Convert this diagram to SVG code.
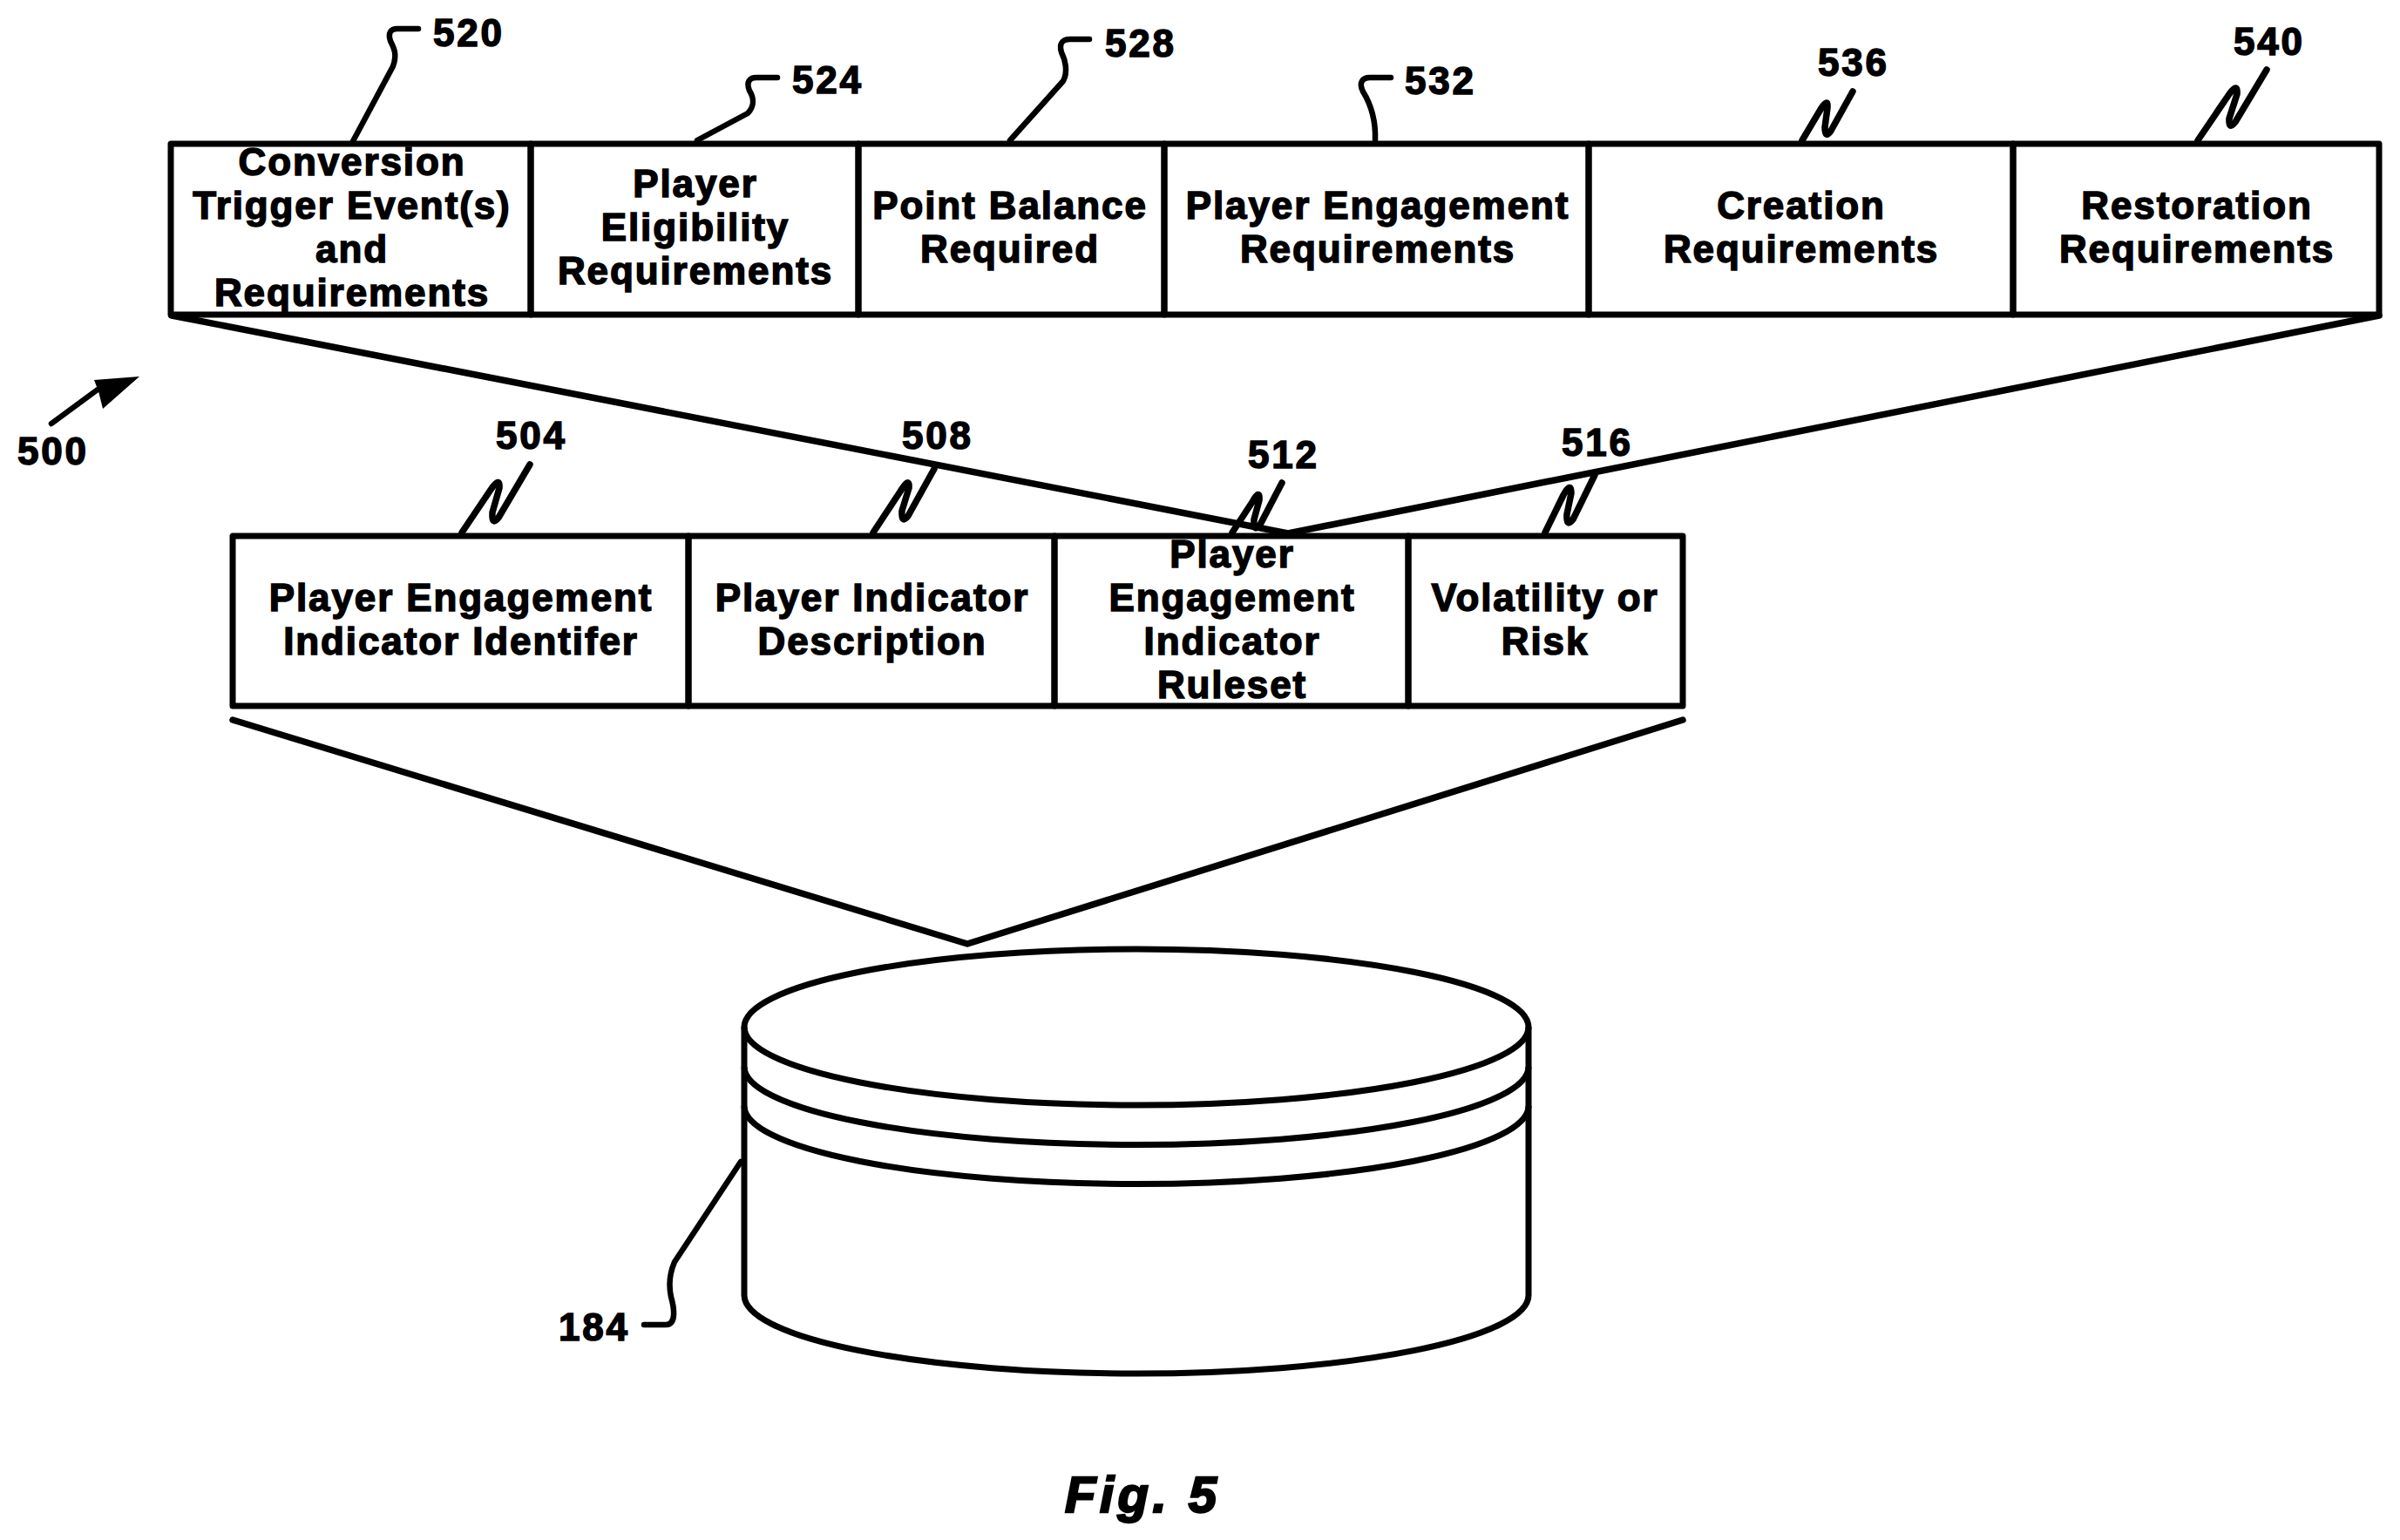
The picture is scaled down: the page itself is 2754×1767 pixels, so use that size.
<svg xmlns="http://www.w3.org/2000/svg" width="2754" height="1767" viewBox="0 0 2754 1767">
<style>
.cell{fill:none;stroke:#000;stroke-width:7;stroke-linejoin:round}
.t{font-family:"Liberation Sans",Arial,sans-serif;font-weight:700;font-size:44px;letter-spacing:1.9px;text-anchor:middle;fill:#000;stroke:#000;stroke-width:1.5}
.n{font-family:"Liberation Sans",Arial,sans-serif;font-weight:700;font-size:44px;letter-spacing:2.8px;fill:#000;stroke:#000;stroke-width:1.5}
.fig{font-family:"Liberation Sans",Arial,sans-serif;font-weight:700;font-style:italic;font-size:58px;letter-spacing:4.5px;fill:#000;stroke:#000;stroke-width:2.4}
.l{fill:none;stroke:#000;stroke-width:6.5;stroke-linecap:round;stroke-linejoin:round}
.z{fill:none;stroke:#000;stroke-width:7.5;stroke-linecap:round;stroke-linejoin:round}
.f{fill:none;stroke:#000;stroke-width:7.5;stroke-linecap:round;stroke-linejoin:round}
.c{fill:none;stroke:#000;stroke-width:7}
</style>
<g id="connectors">
<path id="funnel-top" class="f" d="M197,362 L1478,612 L2730,362"/>
<path id="funnel-bottom" class="f" d="M267,826 L1110,1083 L1931,826"/>
<path id="lead-520" class="l" d="M405,162 L451,76 C456,62 452,55 448,47 C445,38 448,33 456,33 L480,33"/>
<path id="lead-524" class="l" d="M800,161 L858,130 C866,122 865,112 860,104 C856,94 860,89 868,89 L892,89"/>
<path id="lead-528" class="l" d="M1159,161 L1220,93 C1226,82 1222,68 1218,60 C1215,50 1219,45 1228,45 L1250,45"/>
<path id="lead-532" class="l" d="M1578,161 C1579,135 1572,118 1564,105 C1559,95 1563,89 1572,89 L1596,89"/>
<path id="lead-536" class="z" d="M2068,161 L2090,124 Q2098,112 2097,124 L2094,146 Q2094,160 2101,150 L2126,105"/>
<path id="lead-540" class="z" d="M2522,161 L2558,108 Q2568,94 2567,108 L2558,136 Q2557,150 2565,140 L2601,80"/>
<path id="lead-504" class="z" d="M530,611 L563,562 Q574,546 573,560 L565,588 Q564,604 572,594 L608,533"/>
<path id="lead-508" class="z" d="M1002,611 L1033,564 Q1044,546 1043,560 L1035,586 Q1034,602 1042,592 L1072,538"/>
<path id="lead-512" class="z" d="M1414,611 L1437,576 Q1446,560 1445,574 L1439,596 Q1438,612 1446,602 L1471,554"/>
<path id="lead-516" class="z" d="M1773,611 L1794,568 Q1803,552 1803,566 L1798,590 Q1797,606 1805,596 L1830,545"/>
<path id="lead-184" class="l" d="M850,1333 L774,1448 C768,1462 767,1474 770,1488 C774,1502 776,1520 764,1520 L739,1520"/>
<path id="arrow-shaft" class="l" d="M59,486 L112,447"/>
<polygon id="arrow-head" points="160,432 108,436 113,449 118,469" fill="#000"/>
</g>
<g id="cell-520"><rect class="cell" x="196" y="165" width="413" height="196"/><text class="t" x="404" y="200.500">Conversion</text><text class="t" x="404" y="250.500">Trigger Event(s)</text><text class="t" x="404" y="300.500">and</text><text class="t" x="404" y="350.500">Requirements</text></g>
<g id="cell-524"><rect class="cell" x="609" y="165" width="376" height="196"/><text class="t" x="798" y="225.500">Player</text><text class="t" x="798" y="275.500">Eligibility</text><text class="t" x="798" y="325.500">Requirements</text></g>
<g id="cell-528"><rect class="cell" x="985" y="165" width="351" height="196"/><text class="t" x="1159" y="250.500">Point Balance</text><text class="t" x="1159" y="300.500">Required</text></g>
<g id="cell-532"><rect class="cell" x="1336" y="165" width="487" height="196"/><text class="t" x="1581" y="250.500">Player Engagement</text><text class="t" x="1581" y="300.500">Requirements</text></g>
<g id="cell-536"><rect class="cell" x="1823" y="165" width="487" height="196"/><text class="t" x="2067" y="250.500">Creation</text><text class="t" x="2067" y="300.500">Requirements</text></g>
<g id="cell-540"><rect class="cell" x="2310" y="165" width="420" height="196"/><text class="t" x="2521" y="250.500">Restoration</text><text class="t" x="2521" y="300.500">Requirements</text></g>
<g id="cell-504"><rect class="cell" x="267" y="615" width="523" height="195"/><text class="t" x="529" y="700.500">Player Engagement</text><text class="t" x="529" y="750.500">Indicator Identifer</text></g>
<g id="cell-508"><rect class="cell" x="790" y="615" width="420" height="195"/><text class="t" x="1001" y="700.500">Player Indicator</text><text class="t" x="1001" y="750.500">Description</text></g>
<g id="cell-512"><rect class="cell" x="1210" y="615" width="406" height="195"/><text class="t" x="1414" y="650.500">Player</text><text class="t" x="1414" y="700.500">Engagement</text><text class="t" x="1414" y="750.500">Indicator</text><text class="t" x="1414" y="800.500">Ruleset</text></g>
<g id="cell-516"><rect class="cell" x="1616" y="615" width="315" height="195"/><text class="t" x="1773" y="700.500">Volatility or</text><text class="t" x="1773" y="750.500">Risk</text></g>
<g id="database-184">
<ellipse class="c" cx="1304" cy="1178.5" rx="450" ry="89.5"/>
<path class="c" d="M854,1178 V1486 A450,90 0 0 0 1754,1486 V1178"/>
<path class="c" d="M854,1224 A450,89.500 0 0 0 1754,1224"/>
<path class="c" d="M854,1269 A450,89.500 0 0 0 1754,1269"/>
</g>
<g id="labels">
<text class="n" x="497" y="53">520</text>
<text class="n" x="909" y="107">524</text>
<text class="n" x="1268" y="65">528</text>
<text class="n" x="1612" y="108">532</text>
<text class="n" x="2086" y="87">536</text>
<text class="n" x="2563" y="63">540</text>
<text class="n" x="20" y="533">500</text>
<text class="n" x="569" y="515">504</text>
<text class="n" x="1035" y="515">508</text>
<text class="n" x="1432" y="537">512</text>
<text class="n" x="1792" y="523">516</text>
<text class="n" x="641" y="1538">184</text>
<text class="fig" x="1222" y="1735">Fig. 5</text>
</g>
</svg>
